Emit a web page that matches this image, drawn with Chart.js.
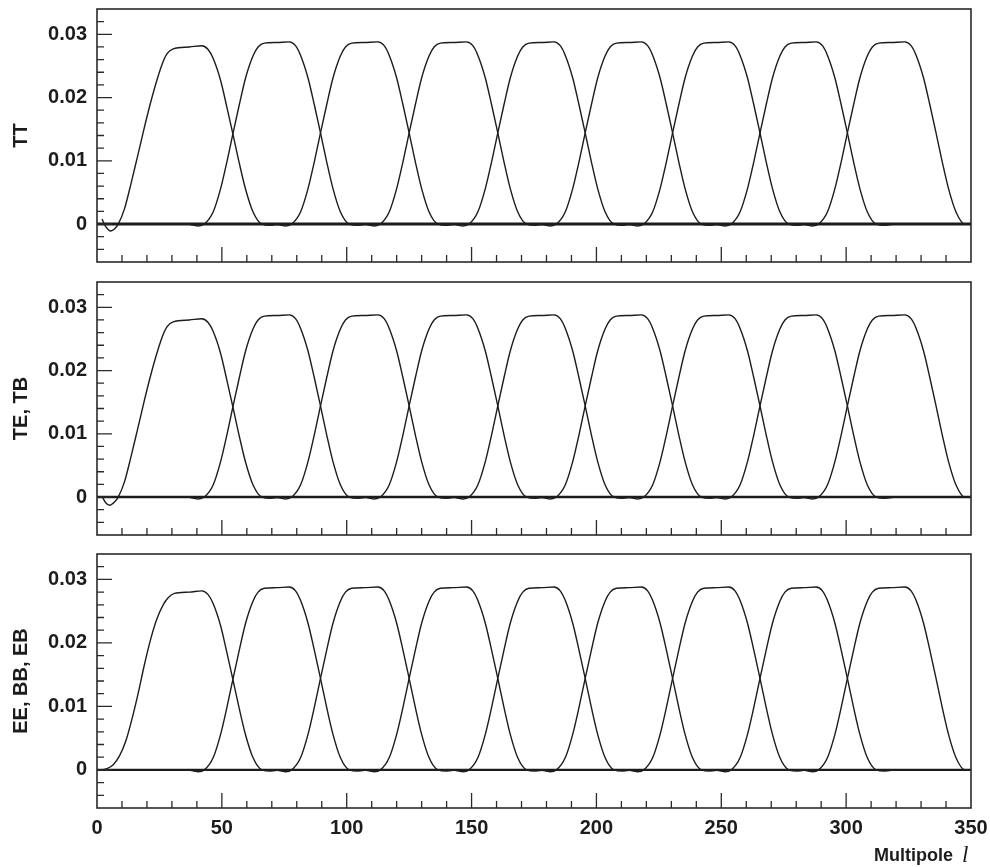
<!DOCTYPE html>
<html>
<head>
<meta charset="utf-8">
<script src="https://cdn.jsdelivr.net/npm/chart.js@4.4.1/dist/chart.umd.min.js"></script>
<style>
  body { margin: 0; background: #fff; }
  #wrap { position: relative; width: 990px; height: 867px; overflow: hidden; }
  canvas { position: absolute; left: 0; }
</style>
</head>
<body>
<div id="wrap">
  <canvas id="tt" width="990" height="272" style="top:0px"></canvas>
  <canvas id="te" width="990" height="274" style="top:272px"></canvas>
  <canvas id="ee" width="990" height="321" style="top:546px"></canvas>
</div>
<script>
// ---- data: [multipole l, window value] ----
// first band differs per panel (low-l ringing in TT and TE)
var ttBand1 = [[2, 0.0008], [3.5, -0.0004], [5.5, -0.0011], [7, -0.0008], [8.5, 0], [11, 0.0024], [13.5, 0.0062],
  [16, 0.0103], [18.5, 0.0145], [21, 0.0185], [23.5, 0.0221], [26, 0.0252], [28, 0.0269], [30.5, 0.0277],
  [37, 0.0280], [42, 0.0282], [44.5, 0.0276], [46.5, 0.0262], [49.5, 0.0227], [52, 0.0185], [54.5, 0.0141],
  [57, 0.0096], [59.5, 0.0055], [62.5, 0.0019], [66, 0], [69.5, -0.0002], [73.5, 0]];
var teBand1 = [[2, 0.0001], [3.5, -0.0009], [5, -0.0013], [7, -0.0008], [8.5, 0], [11, 0.0024], [13.5, 0.0062],
  [16, 0.0103], [18.5, 0.0145], [21, 0.0185], [23.5, 0.0221], [26, 0.0252], [28, 0.0269], [30.5, 0.0277],
  [37, 0.0280], [42, 0.0282], [44.5, 0.0276], [46.5, 0.0262], [49.5, 0.0227], [52, 0.0185], [54.5, 0.0141],
  [57, 0.0096], [59.5, 0.0055], [62.5, 0.0019], [66, 0], [69.5, -0.0002], [73.5, 0]];
var eeBand1 = [[1.5, 0], [4, 0.0002], [6.5, 0.0008], [9, 0.0022], [11.5, 0.0045], [14, 0.0080], [16.5, 0.0121],
  [19, 0.0166], [21.5, 0.0206], [24, 0.0238], [26.5, 0.0260], [28.5, 0.0271], [31, 0.0278], [37, 0.0280],
  [42, 0.0282], [44.5, 0.0276], [46.5, 0.0262], [49.5, 0.0227], [52, 0.0185], [54.5, 0.0141], [57, 0.0096],
  [59.5, 0.0055], [62.5, 0.0019], [66, 0], [69.5, -0.0002], [73.5, 0]];

// bands 2-9 look the same in all three panels
var band2 = [[36.5, 0], [40.5, -0.0003], [43, 0], [46.5, 0.0019], [49.5, 0.0056], [52, 0.0098], [54.5, 0.0144],
  [57, 0.0189], [59.5, 0.0231], [62.5, 0.0266], [64.5, 0.0280], [67, 0.0286], [72, 0.0287], [77, 0.0288],
  [79.5, 0.0282], [81.5, 0.0267], [84.5, 0.0231], [87, 0.0189], [89.5, 0.0144], [92, 0.0098], [94.5, 0.0056],
  [97.5, 0.0019], [101, 0], [104.5, -0.0002], [108.5, 0]];
var band3 = [[71.5, 0], [75.5, -0.0003], [78, 0], [81.5, 0.0019], [84.5, 0.0056], [87, 0.0098], [89.5, 0.0144],
  [92, 0.0189], [94.5, 0.0231], [97.5, 0.0266], [99.5, 0.0280], [102, 0.0286], [107, 0.0287], [112.5, 0.0288],
  [115, 0.0282], [117, 0.0267], [120, 0.0231], [122.5, 0.0189], [125, 0.0144], [127.5, 0.0098], [130, 0.0056],
  [133, 0.0019], [136.5, 0], [140, -0.0002], [144, 0]];
var band4 = [[107, 0], [111, -0.0003], [113.5, 0], [117, 0.0019], [120, 0.0056], [122.5, 0.0098], [125, 0.0144],
  [127.5, 0.0189], [130, 0.0231], [133, 0.0266], [135, 0.0280], [137.5, 0.0286], [142.5, 0.0287], [148, 0.0288],
  [150.5, 0.0282], [152.5, 0.0267], [155.5, 0.0231], [158, 0.0189], [160.5, 0.0144], [163, 0.0098],
  [165.5, 0.0056], [168.5, 0.0019], [172, 0], [175.5, -0.0002], [179.5, 0]];
var band5 = [[142.5, 0], [146.5, -0.0003], [149, 0], [152.5, 0.0019], [155.5, 0.0056], [158, 0.0098], [160.5, 0.0144],
  [163, 0.0189], [165.5, 0.0231], [168.5, 0.0266], [170.5, 0.0280], [173, 0.0286], [178, 0.0287], [183, 0.0288],
  [185.5, 0.0282], [187.5, 0.0267], [190.5, 0.0231], [193, 0.0189], [195.5, 0.0144], [198, 0.0098],
  [200.5, 0.0056], [203.5, 0.0019], [207, 0], [210.5, -0.0002], [214.5, 0]];
var band6 = [[177.5, 0], [181.5, -0.0003], [184, 0], [187.5, 0.0019], [190.5, 0.0056], [193, 0.0098], [195.5, 0.0144],
  [198, 0.0189], [200.5, 0.0231], [203.5, 0.0266], [205.5, 0.0280], [208, 0.0286], [213, 0.0287], [218, 0.0288],
  [220.5, 0.0282], [222.5, 0.0267], [225.5, 0.0231], [228, 0.0189], [230.5, 0.0144], [233, 0.0098],
  [235.5, 0.0056], [238.5, 0.0019], [242, 0], [245.5, -0.0002], [249.5, 0]];
var band7 = [[212.5, 0], [216.5, -0.0003], [219, 0], [222.5, 0.0019], [225.5, 0.0056], [228, 0.0098], [230.5, 0.0144],
  [233, 0.0189], [235.5, 0.0231], [238.5, 0.0266], [240.5, 0.0280], [243, 0.0286], [248, 0.0287], [253, 0.0288],
  [255.5, 0.0282], [257.5, 0.0267], [260.5, 0.0231], [263, 0.0189], [265.5, 0.0144], [268, 0.0098],
  [270.5, 0.0056], [273.5, 0.0019], [277, 0], [280.5, -0.0002], [284.5, 0]];
var band8 = [[247.5, 0], [251.5, -0.0003], [254, 0], [257.5, 0.0019], [260.5, 0.0056], [263, 0.0098], [265.5, 0.0144],
  [268, 0.0189], [270.5, 0.0231], [273.5, 0.0266], [275.5, 0.0280], [278, 0.0286], [283, 0.0287], [288, 0.0288],
  [290.5, 0.0282], [292.5, 0.0267], [295.5, 0.0231], [298, 0.0189], [300.5, 0.0144], [303, 0.0098],
  [305.5, 0.0056], [308.5, 0.0019], [312, 0], [315.5, -0.0002], [319.5, 0]];
var band9 = [[282.5, 0], [286.5, -0.0003], [289, 0], [292.5, 0.0019], [295.5, 0.0056], [298, 0.0098], [300.5, 0.0144],
  [303, 0.0189], [305.5, 0.0231], [308.5, 0.0266], [310.5, 0.0280], [313, 0.0286], [318, 0.0287], [323.5, 0.0288],
  [326, 0.0282], [328, 0.0267], [331, 0.0231], [333.5, 0.0189], [336, 0.0144], [338.5, 0.0098], [341, 0.0056],
  [344, 0.0019], [347.5, 0], [350, 0]];
var zeroLine = [[0, 0], [350, 0]];

var xTickLabels = [0, 50, 100, 150, 200, 250, 300, 350];
var xMajorTicks = [50, 100, 150, 200, 250, 300];
var xMinorTicks = [10, 20, 30, 40, 60, 70, 80, 90, 110, 120, 130, 140, 160, 170, 180, 190, 210, 220, 230, 240,
  260, 270, 280, 290, 310, 320, 330, 340];
var yTickLabels = [0, 0.01, 0.02, 0.03];
var yMinorTicks = [-0.004, -0.002, 0.002, 0.004, 0.006, 0.008, 0.012, 0.014, 0.016, 0.018,
  0.022, 0.024, 0.026, 0.028, 0.032];

var panelTitles = ['TT', 'TE, TB', 'EE, BB, EB'];

// ---- drawing ----
var ink = '#1c1c1c';

// ROOT-style frame with ticks pointing into the plot
var frameTicks = {
  id: 'frameTicks',
  afterDraw: function(chart) {
    var ctx = chart.ctx, a = chart.chartArea;
    var x = chart.scales.x, y = chart.scales.y;
    ctx.save();
    ctx.strokeStyle = '#2a2a2a';
    ctx.lineWidth = 1.3;
    ctx.beginPath();
    xMajorTicks.forEach(function(v) {
      var px = x.getPixelForValue(v);
      ctx.moveTo(px, a.bottom); ctx.lineTo(px, a.bottom - 15);
    });
    xMinorTicks.forEach(function(v) {
      var px = x.getPixelForValue(v);
      ctx.moveTo(px, a.bottom); ctx.lineTo(px, a.bottom - 7);
    });
    yTickLabels.forEach(function(v) {
      var py = y.getPixelForValue(v);
      ctx.moveTo(a.left, py); ctx.lineTo(a.left + 15, py);
    });
    yMinorTicks.forEach(function(v) {
      var py = y.getPixelForValue(v);
      ctx.moveTo(a.left, py); ctx.lineTo(a.left + 7, py);
    });
    ctx.stroke();
    ctx.lineWidth = 1.6;
    ctx.strokeRect(a.left, a.top, a.right - a.left, a.bottom - a.top);
    ctx.restore();
  }
};

// "Multipole l" under the last panel, l as italic serif
var multipoleLabel = {
  id: 'multipoleLabel',
  afterDraw: function(chart) {
    if (!chart.options.plugins.multipoleLabel.show) return;
    var ctx = chart.ctx;
    ctx.save();
    ctx.fillStyle = ink;
    ctx.textBaseline = 'alphabetic';
    ctx.textAlign = 'right';
    ctx.font = 'bold 18px "Liberation Sans", Arial, sans-serif';
    ctx.fillText('Multipole', 953, 315);
    ctx.textAlign = 'left';
    ctx.font = 'italic 23px "Liberation Serif", "DejaVu Serif", serif';
    ctx.fillText('l', 962, 316);
    ctx.restore();
  }
};

function makeDatasets(first, zeroWidth) {
  var bands = [first, band2, band3, band4, band5, band6, band7, band8, band9];
  var sets = [{
    data: zeroLine.map(function(p) { return {x: p[0], y: p[1]}; }),
    borderColor: ink,
    borderWidth: zeroWidth,
    pointRadius: 0
  }];
  bands.forEach(function(b) {
    sets.push({
      data: b.map(function(p) { return {x: p[0], y: p[1]}; }),
      borderColor: ink,
      borderWidth: 1.4,
      pointRadius: 0,
      cubicInterpolationMode: 'monotone'
    });
  });
  return sets;
}

function makePanel(id, title, first, zeroWidth, pad, showX) {
  var tickFont = {family: '"Liberation Sans", Arial, sans-serif', size: 20, weight: 'bold'};
  return new Chart(document.getElementById(id), {
    type: 'line',
    data: {datasets: makeDatasets(first, zeroWidth)},
    plugins: [frameTicks, multipoleLabel],
    options: {
      responsive: false,
      animation: false,
      events: [],
      layout: {padding: {left: 0, right: 19, top: pad.top, bottom: pad.bottom}},
      plugins: {
        legend: {display: false},
        tooltip: {enabled: false},
        multipoleLabel: {show: showX}
      },
      scales: {
        x: {
          type: 'linear',
          min: 0,
          max: 350,
          display: showX,
          grid: {display: false, drawTicks: false},
          border: {display: false},
          afterBuildTicks: function(s) { s.ticks = xTickLabels.map(function(v) { return {value: v}; }); },
          afterFit: function(s) {
            s.height = showX ? 59 : 0;
            s.paddingLeft = 0; s.paddingRight = 0;
          },
          ticks: {
            color: ink,
            font: tickFont,
            padding: 8,
            maxRotation: 0,
            autoSkip: false
          }
        },
        y: {
          type: 'linear',
          min: -0.006,
          max: 0.034,
          grid: {display: false, drawTicks: false},
          border: {display: false},
          afterBuildTicks: function(s) { s.ticks = yTickLabels.map(function(v) { return {value: v}; }); },
          afterFit: function(s) {
            s.width = 97;
            s.paddingTop = 0; s.paddingBottom = 0;
          },
          ticks: {
            color: ink,
            font: tickFont,
            padding: 10,
            callback: function(v) { return v === 0 ? '0' : v.toFixed(2); }
          },
          title: {
            display: true,
            text: title,
            color: ink,
            font: {family: '"Liberation Sans", Arial, sans-serif', size: 20, weight: 'bold'},
            padding: {top: 9, bottom: 0}
          }
        }
      }
    }
  });
}

makePanel('tt', panelTitles[0], ttBand1, 3, {top: 9, bottom: 10}, false);
makePanel('te', panelTitles[1], teBand1, 2.6, {top: 10, bottom: 11}, false);
makePanel('ee', panelTitles[2], eeBand1, 2.4, {top: 8, bottom: 0}, true);
</script>
</body>
</html>
